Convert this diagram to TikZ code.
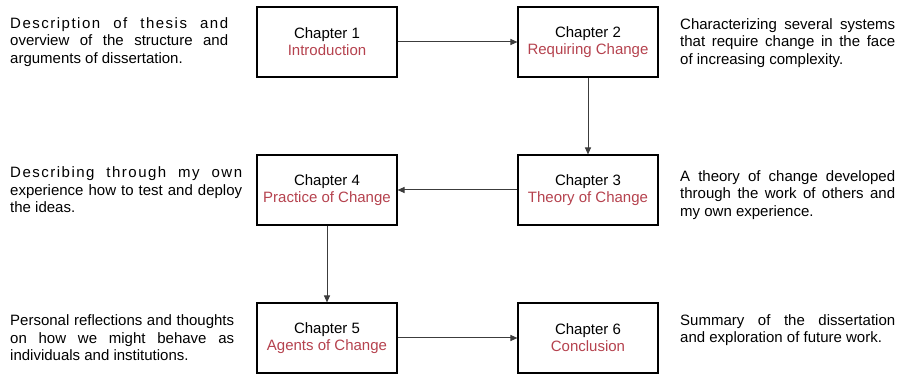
\documentclass[tikz,border=0pt]{standalone}
\usepackage{fontspec}
\setmainfont{Liberation Sans}
\usetikzlibrary{arrows.meta}
\definecolor{chapred}{RGB}{181,66,78}
\definecolor{linegray}{RGB}{60,60,60}
\tikzset{
  chapbox/.style={draw=black,line width=1.1pt,minimum width=140pt,minimum height=70pt,align=center,font=\fontsize{15}{17}\selectfont},
  note/.style={text width=#1,align=flush left,inner sep=0pt,font=\fontsize{15}{17.5}\selectfont},
  link/.style={draw=linegray,line width=1pt,-{Triangle[length=7pt,width=6pt]}}
}
\newcommand{\chap}[2]{Chapter #1\\ \textcolor{chapred}{#2}}
\newcommand{\fl}[1]{\makebox[\hsize][s]{#1}}
\newcommand{\spaced}[1]{{\addfontfeature{LetterSpace=10}#1}}
\begin{document}
\begin{tikzpicture}[x=1pt,y=-1pt]
\useasboundingbox (0,0) rectangle (898,374);
%chapters
\node[chapbox] (ch1) at (327,42) {\chap{1}{Introduction}};
\node[chapbox] (ch2) at (588,42) {\chap{2}{Requiring Change}};
\node[chapbox] (ch3) at (588,190) {\chap{3}{Theory of Change}};
\node[chapbox] (ch4) at (327,190) {\chap{4}{Practice of Change}};
\node[chapbox] (ch5) at (327,338) {\chap{5}{Agents of Change}};
\node[chapbox] (ch6) at (588,338) {\chap{6}{Conclusion}};

%flow
\draw[link] (ch1) -- (ch2);
\draw[link] (ch2) -- (ch3);
\draw[link] (ch3) -- (ch4);
\draw[link] (ch4) -- (ch5);
\draw[link] (ch5) -- (ch6);

%notes on the left
\node[note=218pt,anchor=west] (n1) at (10,42) {\fl{\spaced{Description of thesis and}}\\ \fl{overview of the structure and}\\ arguments of dissertation.};
\node[note=232pt,anchor=west] (n4) at (10,190) {\fl{\spaced{Describing through my own}}\\ \fl{experience how to test and deploy}\\ the ideas.};
\node[note=224pt,anchor=west] (n5) at (10,338) {\fl{Personal reflections and thoughts}\\ \fl{on how we might behave as}\\ individuals and institutions.};

%notes on the right
\node[note=215pt,anchor=west] (n2) at (680,43) {\fl{Characterizing several systems}\\ \fl{that require change in the face}\\ of increasing complexity.};
\node[note=215pt,anchor=west] (n3) at (680,195) {\fl{A theory of change developed}\\ \fl{through the work of others and}\\ my own experience.};
\node[note=215pt,anchor=west] (n6) at (680,330) {\fl{Summary of the dissertation}\\ and exploration of future work.};
\end{tikzpicture}
\end{document}
